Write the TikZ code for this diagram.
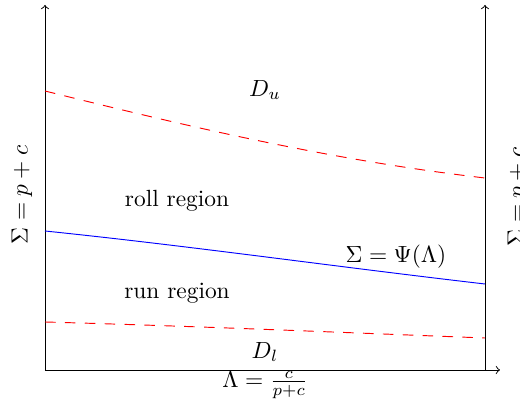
\documentclass[tikz,border=0pt]{standalone}
\begin{document}
\begin{tikzpicture}[x=0.4274pt,y=-0.4274pt,
  axis/.style={->,black},
  bound/.style={red,dash pattern=on 4.5pt off 4pt},
  sep/.style={blue},
  lbl/.style={inner sep=0pt}]
\useasboundingbox (0,0) rectangle (520,409);
\coordinate (O) at (45,370);
\coordinate (Ytop) at (45,5);
\coordinate (Xend) at (500,370);
\coordinate (R0) at (485,370);
\coordinate (Rtop) at (485,5);
\draw[axis] (O) -- (Ytop);
\draw[axis] (O) -- (Xend);
\draw[axis] (R0) -- (Rtop);
\coordinate (u0) at (45,91);
\coordinate (u1) at (485,178);
\coordinate (b0) at (45,231);
\coordinate (b1) at (485,284);
\coordinate (l0) at (45,322);
\coordinate (l1) at (485,338);
\draw[bound] (u0) .. controls (190,127) and (330,160) .. (u1);
\draw[sep] (b0) .. controls (190,246) and (330,266) .. (b1);
\draw[bound] (l0) .. controls (190,326) and (330,332) .. (l1);
\node[lbl] (Du) at (265,90) {$D_u$};
\node[lbl] (roll) at (177,201) {roll region};
\node[lbl] (psi) at (396,257) {$\Sigma=\Psi(\Lambda)$};
\node[lbl] (run) at (177,293) {run region};
\node[lbl] (Dl) at (265,352) {$D_l$};
\node[lbl] (xl) at (265,385) {$\Lambda=\frac{c}{p+c}$};
\node[lbl,rotate=90] (yl) at (22,195) {$\Sigma=p+c$};
\node[lbl,rotate=90] (yr) at (518,197) {$\Sigma=p+c$};
\end{tikzpicture}
\end{document}
